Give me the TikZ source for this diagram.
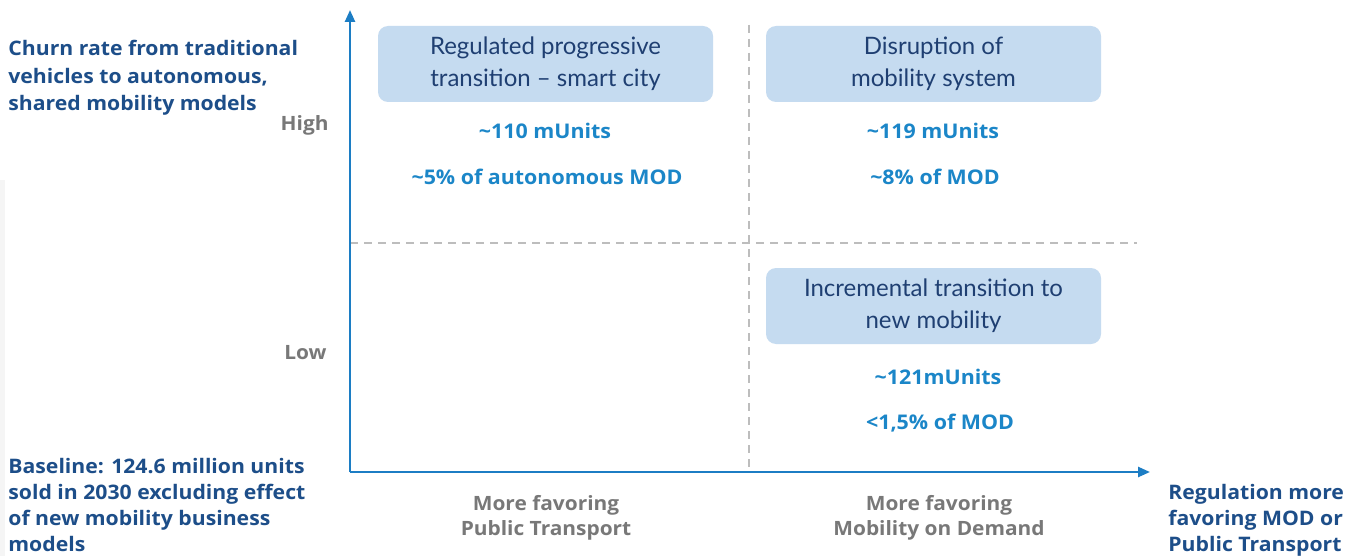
\documentclass[tikz,border=0pt]{standalone}
\usepackage{fontspec}
\setmainfont{Lato}
\newfontfamily\heavysans{Open Sans}[FakeStretch=1.06]
\usetikzlibrary{positioning,arrows.meta}

\definecolor{headblue}{HTML}{1D4E89}
\definecolor{boxfill}{HTML}{C5DBF0}
\definecolor{boxtext}{HTML}{1F3F72}
\definecolor{valblue}{HTML}{1B86C8}
\definecolor{axisblue}{HTML}{1C7DC4}
\definecolor{axisgray}{HTML}{787878}
\definecolor{gridgray}{HTML}{BDBDBD}

\tikzset{
  head/.style={anchor=north west, inner sep=0pt, align=left, text=headblue,
    font=\heavysans\fontsize{10}{13}\selectfont\bfseries},
  scen/.style={fill=boxfill, rounded corners=5pt, minimum width=167.5pt,
    minimum height=38pt, align=center, text=boxtext,
    font=\fontsize{12}{16}\selectfont},
  val/.style={text=valblue, inner sep=0pt, font=\heavysans\fontsize{10.1}{12}\selectfont\bfseries},
  tick/.style={text=axisgray, inner sep=0pt, align=center,
    font=\heavysans\fontsize{9.85}{12.5}\selectfont\bfseries},
  axis/.style={draw=axisblue, line width=1.2pt, -{Triangle[length=6pt,width=5pt]}},
  grid/.style={draw=gridgray, line width=0.6pt, dash pattern=on 4pt off 3pt}
}

\begin{document}
\begin{tikzpicture}[x=0.5pt,y=-0.5pt]
\useasboundingbox (0,0) rectangle (1360,556);
\fill[white] (0,0) rectangle (1360,556);
\fill[black!4] (0,180) rectangle (5,556);

% axes and quadrant lines
\coordinate (o) at (350,472);
\coordinate (ytop) at (350,10);
\coordinate (xend) at (1150,472);
\coordinate (vtop) at (749,25);
\coordinate (vbot) at (749,472);
\coordinate (hl) at (350,243);
\coordinate (hr) at (1137,243);
\draw[grid] (vtop) -- (vbot);
\draw[grid] (hl) -- (hr);
\draw[axis] (o) -- (ytop);
\draw[axis] (o) -- (xend);

% scenario boxes
\node[scen] (s1) at (545.5,64) {Regulated progressive\\transition -- smart city};
\node[scen] (s2) at (933.5,64) {Disruption of\\mobility system};
\node[scen] (s3) at (933.5,306) {Incremental transition to\\new mobility};

% volumes and shares
\foreach \n/\x/\y/\units/\share in {1/545/131/{\textasciitilde110 mUnits}/{\textasciitilde5\% of autonomous MOD},
                                    2/933/131/{\textasciitilde119 mUnits}/{\textasciitilde8\% of MOD},
                                    3/938/377/{\textasciitilde121mUnits}/{<1,5\% of MOD}}
{
  \node[val] (u\n) at (\x,\y) {\units};
  \node[val] (p\n) at (\x+2,\y+46) {\share};
}

% axis labels
\node[tick, anchor=east] (high) at (329,125) {High};
\node[tick, anchor=east] (low) at (327,353) {Low};
\node[tick] (pt) at (546,518) {More favoring\\Public Transport};
\node[tick] (mod) at (939,518) {More favoring\\Mobility on Demand};

\node[head, font=\heavysans\fontsize{10}{13.75}\selectfont\bfseries] (churn) at (8,40) {Churn rate from traditional\\vehicles to autonomous,\\shared mobility models};
\node[head] (base) at (8,458) {Baseline: 124.6 million units\\sold in 2030 excluding effect\\of new mobility business\\models};
\node[head] (reg) at (1168,484) {Regulation more\\favoring MOD or\\Public Transport};

\end{tikzpicture}
\end{document}
